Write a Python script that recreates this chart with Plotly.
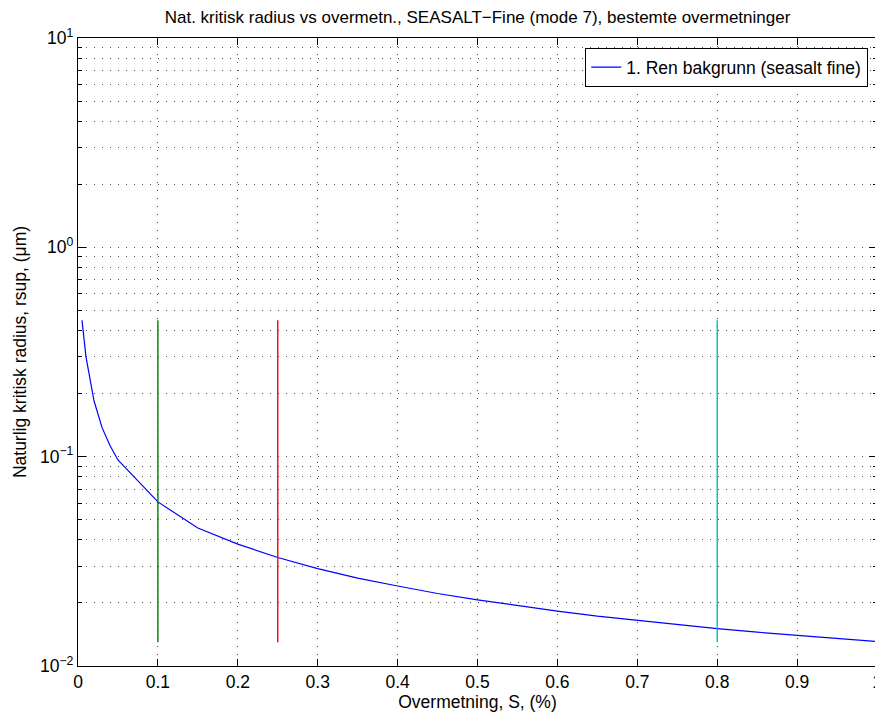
import plotly.graph_objects as go

# Data
S = [0.005, 0.01, 0.02, 0.03, 0.04, 0.05, 0.10, 0.15, 0.20, 0.25, 0.30, 0.35, 0.40,
     0.45, 0.50, 0.55, 0.60, 0.65, 0.70, 0.75, 0.80, 0.85, 0.90, 0.95, 1.00]
r_crit = [0.448, 0.300, 0.185, 0.138, 0.113, 0.0964, 0.0608, 0.0456, 0.0382, 0.0330,
          0.0292, 0.0263, 0.0241, 0.0222, 0.0207, 0.0194, 0.0183, 0.0173, 0.0165,
          0.0158, 0.0151, 0.0145, 0.0140, 0.0135, 0.0131]
marker_S = [0.10, 0.25, 0.80]
marker_colors = ["rgb(0,128,0)", "rgb(255,0,0)", "rgb(0,191,191)"]
marker_range = [0.0130, 0.448]

x_ticks = [0, 0.1, 0.2, 0.3, 0.4, 0.5, 0.6, 0.7, 0.8, 0.9, 1]
x_ticklabels = ["0", "0.1", "0.2", "0.3", "0.4", "0.5", "0.6", "0.7", "0.8", "0.9", "1"]
y_ticks = [0.01, 0.1, 1, 10]
y_ticklabels = ["10<sup>−2</sup>", "10<sup>−1</sup>", "10<sup>0</sup>", "10<sup>1</sup>"]
y_minor = [m * 10 ** e for e in (-2, -1, 0) for m in range(2, 10)]

fig = go.Figure()
fig.add_trace(go.Scatter(x=S, y=r_crit, mode="lines", line=dict(color="#0000ff", width=1.2),
                         name="1. Ren bakgrunn (seasalt fine)"))
for s, c in zip(marker_S, marker_colors):
    fig.add_trace(go.Scatter(x=[s, s], y=marker_range, mode="lines",
                             line=dict(color=c, width=1.4), showlegend=False))

FS = 17.5
font = dict(family="Liberation Sans, Arial, Helvetica, sans-serif", size=FS, color="black")
gridcol = "rgba(0,0,0,0.7)"
gdash = "1px,7px"

# page body has an 8px default margin, so the figure is sized to fit the 883x720 window
fig.update_layout(
    width=875, height=712,
    margin=dict(l=70, r=6, t=30, b=54, autoexpand=False),
    paper_bgcolor="white", plot_bgcolor="white",
    font=font,
    title=dict(text="Nat. kritisk radius vs overmetn., SEASALT−Fine (mode 7), bestemte overmetninger",
               x=0.5, xref="paper", xanchor="center", yref="container", y=1 - 3 / 712,
               yanchor="top", pad=dict(t=0), font=dict(size=17)),
    showlegend=True,
    legend=dict(x=0.9887, y=0.984, xanchor="right", yanchor="top",
                bordercolor="black", borderwidth=1.3, bgcolor="white",
                font=dict(size=FS), itemwidth=30),
)
fig.update_xaxes(range=[-0.000001, 1.000001], tickvals=x_ticks, ticktext=x_ticklabels,
                 automargin=False, tickfont=dict(size=FS),
                 ticks="inside", ticklen=7, tickcolor="black",
                 showline=True, linecolor="black", linewidth=1.3, mirror="ticks",
                 zeroline=False,
                 title=dict(text="Overmetning, S, (%)", standoff=3, font=dict(size=FS)),
                 showgrid=True, gridcolor=gridcol, gridwidth=1, griddash=gdash)
fig.update_yaxes(type="log", range=[-2, 1], tickvals=y_ticks, ticktext=y_ticklabels,
                 automargin=False, tickfont=dict(size=FS),
                 ticks="inside", ticklen=8, tickcolor="black",
                 showline=True, linecolor="black", linewidth=1.3, mirror="ticks",
                 zeroline=False,
                 title=dict(text="Naturlig kritisk radius, rsup, (μm)", standoff=8, font=dict(size=FS)),
                 minor=dict(tickvals=y_minor, ticks="inside", ticklen=4, tickcolor="black",
                            showgrid=True, gridcolor=gridcol, griddash=gdash),
                 showgrid=True, gridcolor=gridcol, gridwidth=1, griddash=gdash)

fig.write_html("out.html")
